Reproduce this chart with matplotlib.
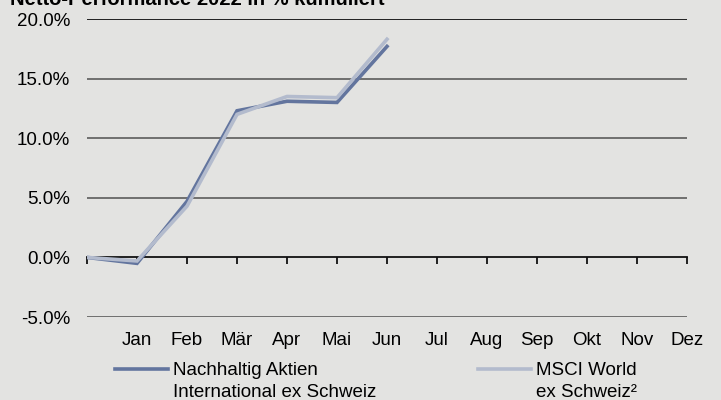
import matplotlib
matplotlib.use("Agg")
import matplotlib.pyplot as plt
import numpy as np

plt.rcParams["font.family"] = ["Liberation Sans", "DejaVu Sans"]

# Cumulative net performance 2022 (in %)
months = ["", "Jan", "Feb", "Mär", "Apr", "Mai", "Jun",
          "Jul", "Aug", "Sep", "Okt", "Nov", "Dez"]
fund = [0.0, -0.5, 4.7, 12.3, 13.1, 13.0, 17.7]
index = [0.0, -0.3, 4.3, 12.0, 13.5, 13.4, 18.3]
fund_label = "Nachhaltig Aktien\nInternational ex Schweiz"
index_label = "MSCI World\nex Schweiz²"
yticks = [-5, 0, 5, 10, 15, 20]

bg = "#e3e3e1"
dark = "#63759e"
light = "#b3bbcd"
fs = 13.5

fig = plt.figure(figsize=(7.21, 4.0), dpi=100, facecolor=bg)
ax = fig.add_axes([87 / 721, 83 / 400, 600 / 721, 298 / 400], facecolor=bg)

ax.set_xlim(0, 12)
ax.set_ylim(-5, 20)

# horizontal grid
for v in yticks:
    if v == 0:
        continue
    ax.axhline(v, color="#111111" if v == 20 else "#666666", lw=1.3, zorder=1)

ax.plot(range(len(fund)), fund, color=dark, lw=2.6, zorder=3,
        solid_joinstyle="miter", label=fund_label)
ax.plot(range(len(index)), index, color=light, lw=2.6, zorder=3,
        solid_joinstyle="miter", label=index_label)

for s in ["top", "right", "left"]:
    ax.spines[s].set_visible(False)
ax.spines["bottom"].set_position(("data", 0))
ax.spines["bottom"].set_color("#111111")
ax.spines["bottom"].set_linewidth(1.3)
ax.spines["bottom"].set_zorder(2)

ax.set_xticks(range(13))
ax.set_xticklabels(months, fontsize=fs)
ax.tick_params(axis="x", direction="out", length=5, width=1.3,
               color="#111111", pad=48.5)

ax.set_yticks(yticks)
ax.set_yticklabels([f"{v:.1f}%" for v in yticks], fontsize=fs)
ax.tick_params(axis="y", length=0, pad=12)

fig.text(10 / 721, 1 - 5 / 400, "Netto-Performance 2022 in % kumuliert",
         fontsize=14.5, fontweight="bold", va="baseline", ha="left")

leg = fig.legend(loc="upper left", bbox_to_anchor=(115 / 721, 1 - 362 / 400),
                 ncol=2, frameon=False, fontsize=fs, handlelength=2.83,
                 handletextpad=0.27, columnspacing=5.4, borderaxespad=0,
                 borderpad=0)
for t in leg.get_texts():
    t.set_linespacing(1.38)
# put the legend swatches level with the first line of each label
for ln in leg.get_lines():
    ln.set_ydata(np.asarray(ln.get_ydata()) + 9)

fig.savefig("out.png", dpi=100, facecolor=bg)
